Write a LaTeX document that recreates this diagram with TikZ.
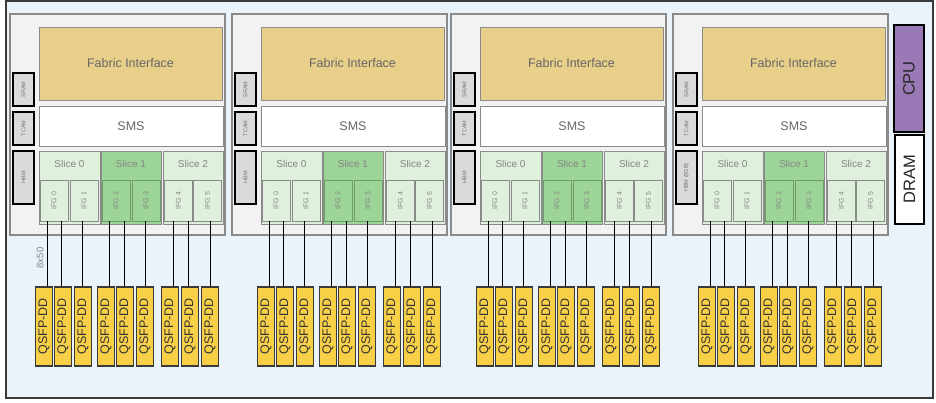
\documentclass[tikz,border=0pt]{standalone}
\usepackage{fontspec}
\setmainfont{Liberation Sans}
\definecolor{panelfill}{HTML}{EAF2FA}
\definecolor{panelline}{HTML}{3A3A3A}
\definecolor{chipfill}{HTML}{F2F2F2}
\definecolor{chipline}{HTML}{8A8A8A}
\definecolor{fabfill}{HTML}{E8D08A}
\definecolor{memfill}{HTML}{DADADA}
\definecolor{slicelight}{HTML}{DFF0DC}
\definecolor{slicedark}{HTML}{9DD497}
\definecolor{ifgdarkline}{HTML}{6E9E69}
\definecolor{qsfpfill}{HTML}{F8D048}
\definecolor{cpufill}{HTML}{9A7AB6}
\definecolor{softtext}{HTML}{666666}
\definecolor{palete}{HTML}{858585}
\definecolor{memtext}{HTML}{707070}
\definecolor{porttext}{HTML}{333333}
\tikzset{
  fs/.style={font=\fontsize{#1}{#1}\selectfont},
  panelbox/.style={draw=panelline, fill=panelfill, line width=2pt},
  chipbox/.style={draw=chipline, fill=chipfill, line width=1.2pt},
  membox/.style={draw=black, fill=memfill, line width=1.4pt, inner sep=0pt,
    rotate=90, text=memtext, fs=5.5},
  fabbox/.style={draw=chipline, fill=fabfill, line width=1pt, inner sep=0pt,
    text=softtext, fs=12.5},
  smsbox/.style={draw=chipline, fill=white, line width=1pt, inner sep=0pt,
    text=softtext, fs=12.5},
  slicebox/.style={draw=chipline, fill=slicelight, line width=1pt, inner sep=0pt},
  slicehot/.style={draw=chipline, fill=slicedark, line width=1pt, inner sep=0pt},
  ifgbox/.style={draw=chipline, fill=slicelight, line width=0.9pt, inner sep=0pt,
    rotate=90, text=palete, fs=7},
  ifghot/.style={draw=ifgdarkline, fill=slicedark, line width=0.9pt, inner sep=0pt,
    rotate=90, text=palete, fs=7},
  slicetext/.style={text=palete, fs=10, inner sep=0pt},
  qsfpbox/.style={draw=panelline, fill=qsfpfill, line width=1.4pt, inner sep=0pt,
    rotate=90, text=porttext, fs=12.5, minimum width=79pt, minimum height=16.5pt},
  hostbox/.style={draw=black, line width=1.4pt, inner sep=0pt, rotate=90,
    text=black!85, fs=16.5},
  link/.style={draw=black, line width=1pt},
}
\begin{document}
\begin{tikzpicture}[x=1pt, y=-1pt]
\useasboundingbox (0,0) rectangle (936,402);

% board outline
\node[panelbox, minimum width=927pt, minimum height=397pt] (board) at (469.5,199.5) {};

% four switch ASICs
\foreach \L [count=\c] in {10,232,451,673} {
  \node[chipbox, minimum width=215pt, minimum height=221pt] (chip\c) at (\L+107.5,124.5) {};

  % external memories
  \node[membox, minimum width=33pt, minimum height=21pt] (sram\c) at (\L+13.5,89.5) {SRAM};
  \node[membox, minimum width=33pt, minimum height=21pt] (tcam\c) at (\L+13.5,128.5) {TCAM};
  \ifnum\c=4
    \node[membox, minimum width=53pt, minimum height=21pt] (hbm\c) at (\L+13.5,177.5) {HBM (8GB)};
  \else
    \node[membox, minimum width=53pt, minimum height=21pt] (hbm\c) at (\L+13.5,177.5) {HBM};
  \fi

  % core blocks
  \node[fabbox, minimum width=183pt, minimum height=73pt] (fab\c) at (\L+120.5,63.5) {Fabric Interface};
  \node[smsbox, minimum width=184pt, minimum height=40pt] (sms\c) at (\L+121,126) {SMS};

  % slices
  \node[slicebox, minimum width=61pt, minimum height=73pt] (slice\c-0) at (\L+59.5,187.5) {};
  \node[slicehot, minimum width=60pt, minimum height=73pt] (slice\c-1) at (\L+121,187.5) {};
  \node[slicebox, minimum width=60pt, minimum height=73pt] (slice\c-2) at (\L+183,187.5) {};
  \node[slicetext] (slabel\c-0) at (\L+59.5,164) {Slice 0};
  \node[slicetext] (slabel\c-1) at (\L+121,164) {Slice 1};
  \node[slicetext] (slabel\c-2) at (\L+183,164) {Slice 2};

  % interface groups
  \foreach \gx/\g/\st in {44/0/ifgbox, 74/1/ifgbox, 106/2/ifghot, 136/3/ifghot, 168.5/4/ifgbox, 197.5/5/ifgbox} {
    \node[\st, minimum width=41pt, minimum height=28pt] (ifg\c-\g) at (\L+\gx,200.5) {IFG \g};
  }

  % front-panel ports and their links
  \foreach \qx/\dx/\g [count=\k] in {34/3/0, 53/-2/0, 73/-1/1, 96/3/2, 115/-1/2, 135/0/3, 160/3/4, 180/-2/4, 200/0/5} {
    \node[qsfpbox] (q\c-\k) at (\L+\qx,326.5) {QSFP-DD};
    \draw[link] ([xshift=\dx pt]q\c-\k.east) -- ([xshift=\dx pt]q\c-\k.east |- ifg\c-\g.west);
  }
}

\node[rotate=90, text=palete, fs=9.5, inner sep=0pt] (lanes) at (40,258) {8x50};

% host processor and memory
\node[hostbox, fill=cpufill, minimum width=107pt, minimum height=30pt] (cpu) at (909,78.5) {CPU};
\node[hostbox, fill=white, minimum width=89pt, minimum height=29pt] (dram) at (909.5,179.5) {DRAM};
\end{tikzpicture}
\end{document}
